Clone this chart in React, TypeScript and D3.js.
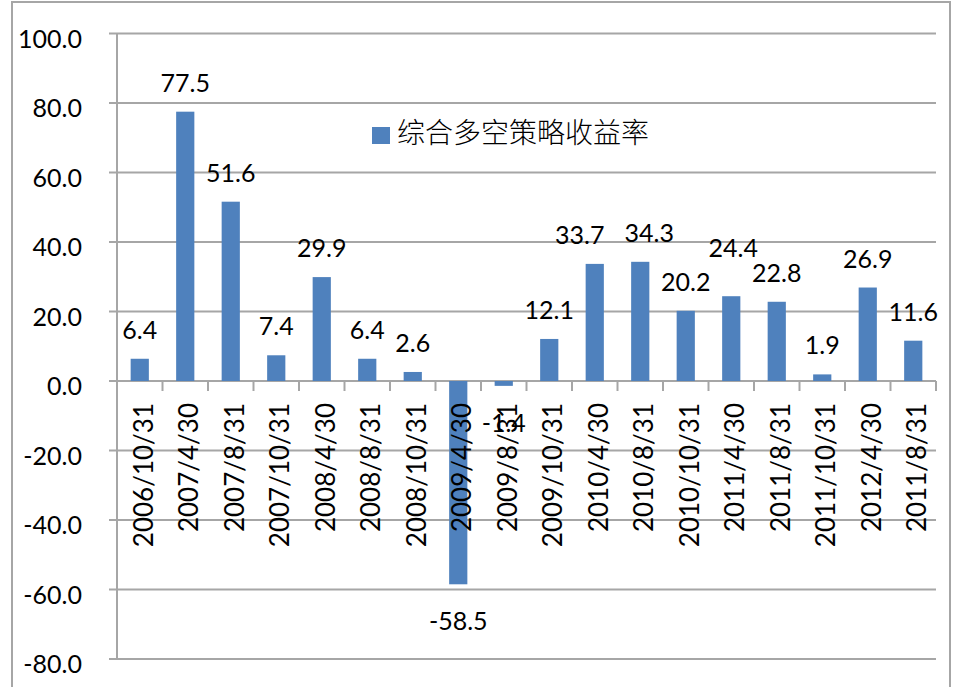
import React from "react";
import * as d3 from "d3";

const categories = [
  "2006/10/31", "2007/4/30", "2007/8/31", "2007/10/31", "2008/4/30", "2008/8/31",
  "2008/10/31", "2009/4/30", "2009/8/31", "2009/10/31", "2010/4/30", "2010/8/31",
  "2010/10/31", "2011/4/30", "2011/8/31", "2011/10/31", "2012/4/30", "2011/8/31b",
];
const categoryLabels = [
  "2006/10/31", "2007/4/30", "2007/8/31", "2007/10/31", "2008/4/30", "2008/8/31",
  "2008/10/31", "2009/4/30", "2009/8/31", "2009/10/31", "2010/4/30", "2010/8/31",
  "2010/10/31", "2011/4/30", "2011/8/31", "2011/10/31", "2012/4/30", "2011/8/31",
];
const values = [6.4, 77.5, 51.6, 7.4, 29.9, 6.4, 2.6, -58.5, -1.4, 12.1, 33.7, 34.3, 20.2, 24.4, 22.8, 1.9, 26.9, 11.6];
const yTicks = [-80, -60, -40, -20, 0, 20, 40, 60, 80, 100];
const seriesName = "综合多空策略收益率";

const W = 954;
const H = 687;
const LEFT = 117;
const RIGHT = 936;
const TOP = 33.5;
const BOTTOM = 659;
const FONT = "Lato, 'Open Sans', sans-serif";
const GRID = "#a6a6a6";
const BAR = "#4f81bd";
// label nudges (px) to avoid overlapping neighbouring labels, as in the original
const labelDx: Record<number, number> = { 10: -15, 11: 9, 13: 2 };
const labelDy: Record<number, number> = { 13: -19 };

export default function App() {
  const x = d3.scaleBand<string>().domain(categories).range([LEFT, RIGHT]).paddingInner(0.6).paddingOuter(0.3);
  const y = d3.scaleLinear().domain([-80, 100]).range([BOTTOM, TOP]);
  const step = x.step();
  const y0 = y(0);

  return (
    <svg width={W} height={H} style={{ position: "absolute", left: 0, top: 0, background: "#fff" }}>
      <rect x={12} y={2} width={938} height={700} fill="#fff" stroke={GRID} strokeWidth={2} />
      {yTicks.map((t) => (
        <g key={t}>
          <line x1={LEFT - 8} x2={RIGHT} y1={y(t)} y2={y(t)} stroke={GRID} strokeWidth={2} />
          <text x={82} y={y(t) + 4} textAnchor="end" dominantBaseline="central" fontFamily={FONT} fontSize={25} fill="#000">
            {t.toFixed(1)}
          </text>
        </g>
      ))}
      <line x1={LEFT} x2={LEFT} y1={TOP} y2={BOTTOM} stroke={GRID} strokeWidth={2} />
      {d3.range(categories.length + 1).map((i) => (
        <line key={i} x1={LEFT + i * step} x2={LEFT + i * step} y1={y0} y2={y0 + 10} stroke={GRID} strokeWidth={2} />
      ))}
      {values.map((v, i) => (
        <rect key={i} x={x(categories[i])} width={x.bandwidth()} y={Math.min(y(v), y0)} height={Math.abs(y(v) - y0)} fill={BAR} />
      ))}
      {categoryLabels.map((c, i) => {
        const cx = x(categories[i])! + x.bandwidth() / 2 + 3;
        return (
          <text key={i} transform={`translate(${cx},403) rotate(-90)`} textAnchor="end" dominantBaseline="central" fontFamily={FONT} fontSize={26} fill="#000">
            {c}
          </text>
        );
      })}
      {values.map((v, i) => {
        const cx = x(categories[i])! + x.bandwidth() / 2 + (labelDx[i] || 0);
        const ly = (v >= 0 ? y(v) - 20 : y(v) + 46) + (labelDy[i] || 0);
        return (
          <text key={i} x={cx} y={ly} textAnchor="middle" fontFamily={FONT} fontSize={25} fill="#000">
            {v.toFixed(1)}
          </text>
        );
      })}
      <rect x={372} y={127} width={18} height={17} fill={BAR} />
      <text x={397} y={131} dominantBaseline="central" fontFamily="'Noto Sans CJK SC', sans-serif" fontSize={28} fontWeight={300} fill="#000">
        {seriesName}
      </text>
    </svg>
  );
}
